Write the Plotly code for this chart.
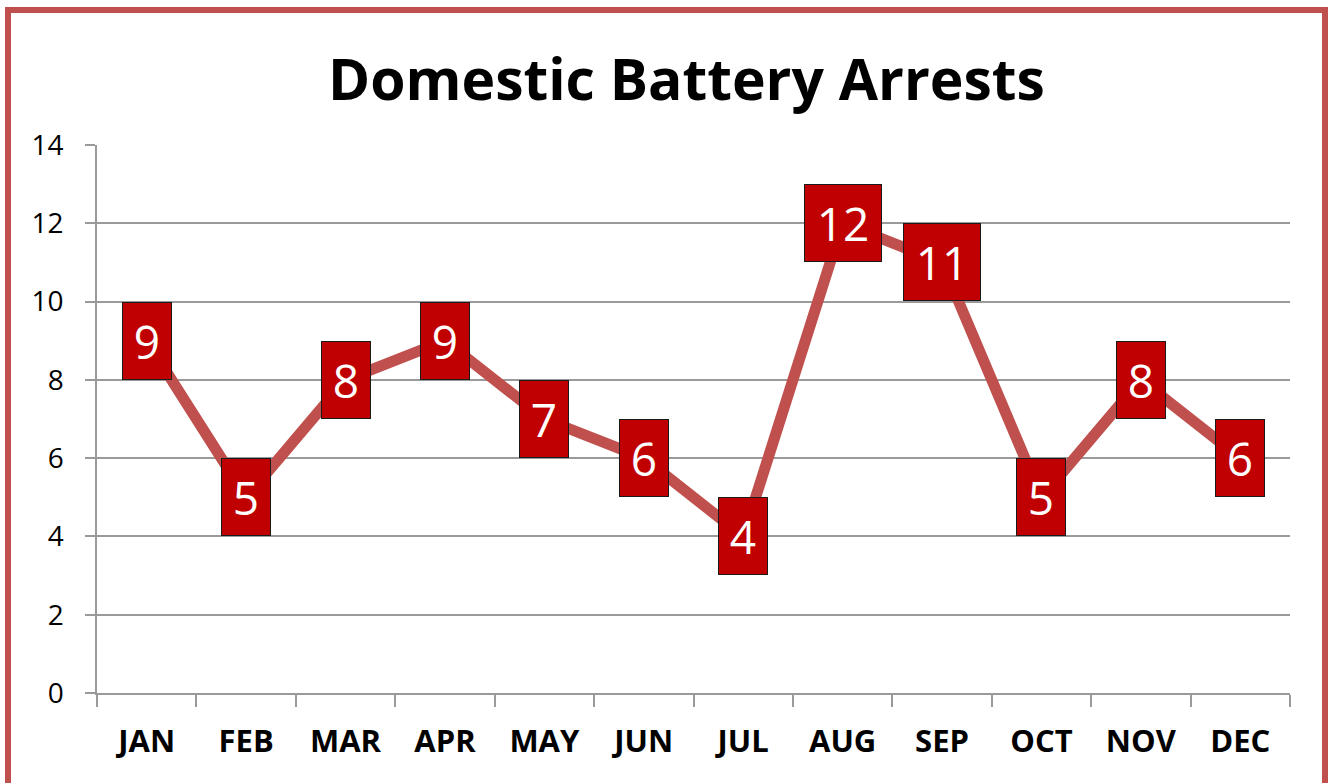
import plotly.graph_objects as go

months = ["JAN", "FEB", "MAR", "APR", "MAY", "JUN", "JUL", "AUG", "SEP", "OCT", "NOV", "DEC"]
arrests = [9, 5, 8, 9, 7, 6, 4, 12, 11, 5, 8, 6]
y_ticks = [0, 2, 4, 6, 8, 10, 12, 14]
title_text = "Domestic Battery Arrests"

L, R, T, B = 97, 38, 145, 90
W, H = 1328, 783
pw, ph = W - L - R, H - T - B
GRID = "#9a9a9a"

fig = go.Figure()
fig.add_trace(go.Scatter(
    x=months, y=arrests, mode="lines",
    line=dict(color="#C0504D", width=11),
    hoverinfo="x+y",
))

for m, v in zip(months, arrests):
    fig.add_annotation(
        x=m, y=v, xref="x", yref="y", text=str(v), showarrow=False,
        font=dict(family="Open Sans", size=46, color="white"),
        bgcolor="#C00000", bordercolor="#1a1a1a", borderwidth=1, borderpad=0,
        width=48 if v < 10 else 76, height=76, align="center", valign="middle",
    )

fig.add_annotation(
    x=(686.5 - L) / pw, y=(H - B - 78) / ph, xref="paper", yref="paper",
    text="<b>" + title_text + "</b>", showarrow=False,
    font=dict(family="Open Sans", size=57, color="black"),
    xanchor="center", yanchor="middle",
)

# outer chart border
fig.add_shape(
    type="rect", xref="paper", yref="paper",
    x0=(8 - L) / pw, x1=(1325 - L) / pw,
    y0=(H - B - 800) / ph, y1=(H - B - 10) / ph,
    line=dict(color="#C0504D", width=6), fillcolor="rgba(0,0,0,0)", layer="above",
)

fig.update_xaxes(
    type="category", tickson="boundaries", ticks="outside", ticklen=12,
    tickcolor=GRID, tickwidth=1.5, showline=True, linecolor=GRID, linewidth=1.5,
    showgrid=False,
    tickfont=dict(family="Open Sans", size=31, color="black", weight="bold"),
    ticklabelstandoff=20,
    range=[-0.5, 11.5], fixedrange=True,
)
fig.update_yaxes(
    range=[0, 14], tickvals=y_ticks, ticks="outside", ticklen=10,
    tickcolor=GRID, tickwidth=1.5, showline=True, linecolor=GRID, linewidth=1.5,
    showgrid=True, gridcolor=GRID, gridwidth=1.5, zeroline=False,
    tickfont=dict(family="Open Sans", size=28, color="black"),
    ticklabelstandoff=16, fixedrange=True,
)

fig.update_layout(
    width=W, height=H, margin=dict(l=L, r=R, t=T, b=B),
    paper_bgcolor="white", plot_bgcolor="white", showlegend=False,
)

fig.write_html("out.html", config={"displayModeBar": False},
               post_script="document.body.style.margin='0';")
